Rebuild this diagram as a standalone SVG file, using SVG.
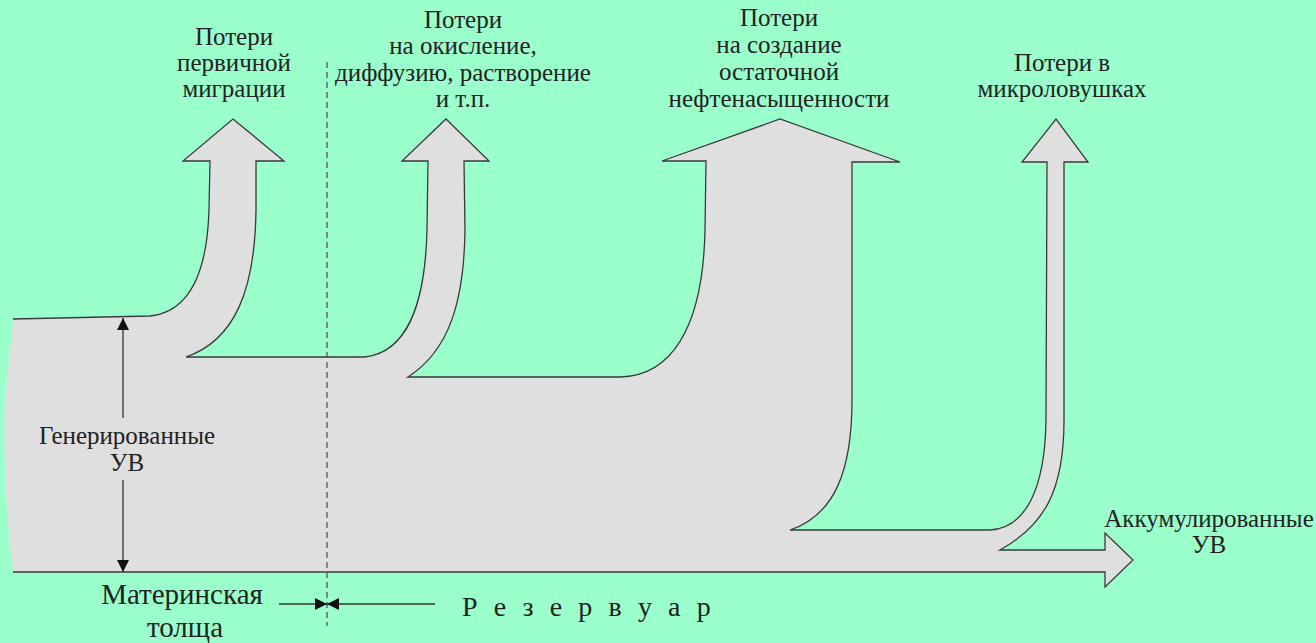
<svg xmlns="http://www.w3.org/2000/svg" width="1316" height="643" viewBox="0 0 1316 643">
<defs>
<style>
.bg{fill:#9affcb}
.flow{fill:#dfdfdf;stroke:none}
.edge{fill:none;stroke:#3a3a3a;stroke-width:1.3;stroke-linejoin:miter}
.t{font-family:"Liberation Serif","Times New Roman",serif;font-size:25px;fill:#222;text-anchor:middle}
.big{font-size:29px}
.res{font-family:"Liberation Serif","Times New Roman",serif;font-size:28px;fill:#222;letter-spacing:4.6px}
.dim{stroke:#333;stroke-width:1.3;fill:none}
.dash{stroke:#555;stroke-width:1.3;stroke-dasharray:6,4;fill:none}
</style>
<marker id="ah" viewBox="0 0 10 10" refX="10" refY="5" markerWidth="12" markerHeight="12" markerUnits="userSpaceOnUse" orient="auto">
<path d="M0,0 L10,5 L0,10 Z" fill="#111"/>
</marker>
</defs>
<rect class="bg" x="0" y="0" width="1316" height="643"/>
<g id="flow">
<path class="flow" d="M13,319 L150,316 C188,312 207,275 209,210 L210,161 L183,161 L233,119 L284,161 L256,161 L256,210 C255,290 235,340 186,357 L365,357 C405,352 425,310 427,230 L428,161 L402,161 L446,119 L489,161 L464,161 L465,230 C464,300 450,350 408,377 L620,377 C670,376 703,330 705,230 L706,161 L662,161 L780,119 L900,162 L852,162 L852,400 C852,470 835,515 790,530 L990,530 C1025,528 1045,490 1046,420 L1047,162 L1022,162 L1056,119 L1088,162 L1064,162 L1064,420 C1064,490 1045,525 1000,550 L1105,550 L1105,533 L1133,560 L1105,587 L1105,572 L13,572 C6,520 2,430 6,390 C8,360 12,340 13,319 Z"/>
<path class="edge" d="M13,319 L150,316 C188,312 207,275 209,210 L210,161 L183,161 L233,119 L284,161 L256,161 L256,210 C255,290 235,340 186,357 L365,357 C405,352 425,310 427,230 L428,161 L402,161 L446,119 L489,161 L464,161 L465,230 C464,300 450,350 408,377 L620,377 C670,376 703,330 705,230 L706,161 L662,161 L780,119 L900,162 L852,162 L852,400 C852,470 835,515 790,530 L990,530 C1025,528 1045,490 1046,420 L1047,162 L1022,162 L1056,119 L1088,162 L1064,162 L1064,420 C1064,490 1045,525 1000,550 L1105,550 L1105,533 L1133,560 L1105,587 L1105,572 L13,572"/>
</g>
<g id="connectors">
<line class="dash" x1="327" y1="62" x2="327" y2="626"/>
<line class="dim" x1="123" y1="418" x2="123" y2="318" marker-end="url(#ah)"/>
<line class="dim" x1="123" y1="480" x2="123" y2="572" marker-end="url(#ah)"/>
<line class="dim" x1="279" y1="604" x2="327" y2="604" marker-end="url(#ah)"/>
<line class="dim" x1="435" y1="604" x2="327" y2="604" marker-end="url(#ah)"/>
</g>
<g id="label-primary">
<text class="t" x="234" y="45">Потери</text>
<text class="t" x="234" y="71">первичной</text>
<text class="t" x="234" y="97">миграции</text>
</g>
<g id="label-oxidation">
<text class="t" x="463" y="28">Потери</text>
<text class="t" x="463" y="54">на окисление,</text>
<text class="t" x="463" y="81">диффузию, растворение</text>
<text class="t" x="463" y="107">и т.п.</text>
</g>
<g id="label-residual">
<text class="t" x="779" y="26">Потери</text>
<text class="t" x="779" y="53">на создание</text>
<text class="t" x="779" y="80">остаточной</text>
<text class="t" x="779" y="107">нефтенасыщенности</text>
</g>
<g id="label-microtraps">
<text class="t" x="1062" y="71">Потери в</text>
<text class="t" x="1062" y="97">микроловушках</text>
</g>
<g id="label-accumulated">
<text class="t" x="1209" y="527">Аккумулированные</text>
<text class="t" x="1209" y="553">УВ</text>
</g>
<g id="label-generated">
<text class="t" x="127" y="444">Генерированные</text>
<text class="t" x="127" y="471">УВ</text>
</g>
<g id="label-source">
<text class="t big" x="182" y="604">Материнская</text>
<text class="t big" x="185" y="637">толща</text>
</g>
<g id="label-reservoir">
<text class="res" x="462" y="616">Р е з е р в у а р</text>
</g>
</svg>
